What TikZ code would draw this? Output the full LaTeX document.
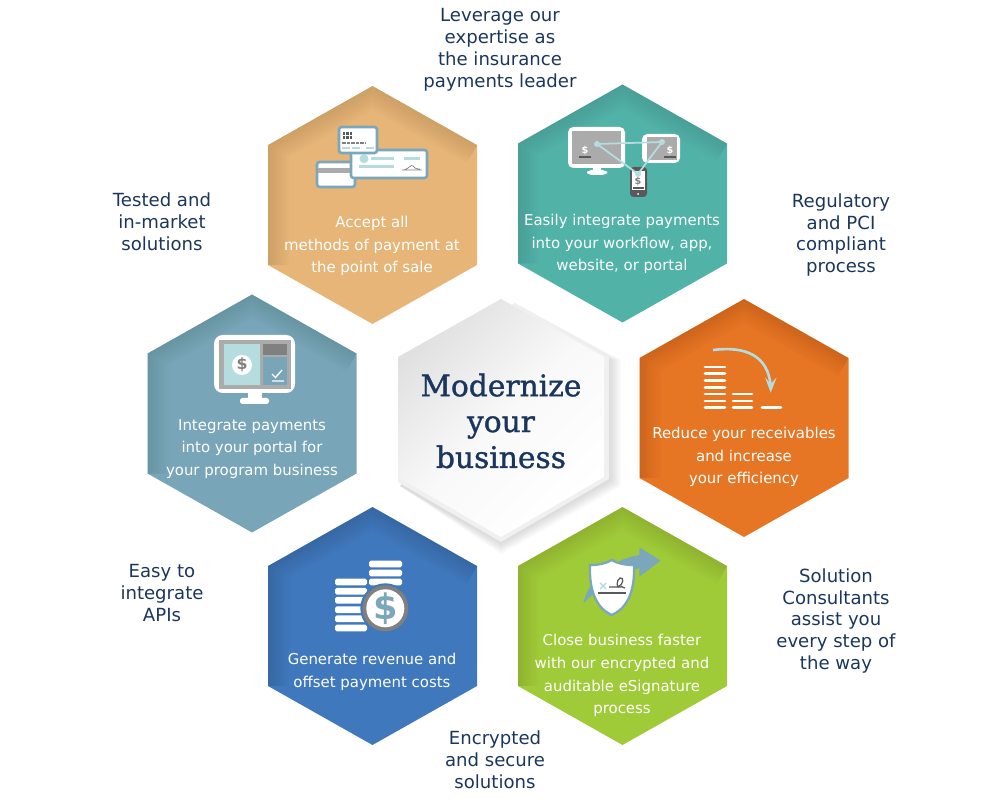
\documentclass[tikz,border=0pt]{standalone}
\usepackage{fontspec}
\setmainfont{DejaVu Sans}
\newfontfamily\titlefont[FakeBold=1.2]{DejaVu Serif}
\usepackage{xcolor}
\usepackage{tikz}
\definecolor{navy}{HTML}{1B365D}
\definecolor{tancell}{HTML}{E6B577}
\definecolor{tealcell}{HTML}{51B3A8}
\definecolor{slatecell}{HTML}{78A5B8}
\definecolor{orangecell}{HTML}{E67524}
\definecolor{bluecell}{HTML}{3F78BC}
\definecolor{greencell}{HTML}{A0CB38}
\definecolor{iconblue}{HTML}{7AA7BC}
\definecolor{iconpale}{HTML}{B5DDE0}
\definecolor{icongrey}{HTML}{ABABAB}
\definecolor{icondark}{HTML}{595959}
\newcommand{\hexpath}{(0,-119) -- (104.5,-60) -- (104.5,60) -- (0,119) -- (-104.5,60) -- (-104.5,-60) -- cycle}
% one coloured cell, darker along its upper left edges
\newcommand{\hexcell}[3]{%
  \begin{scope}[shift={(#1,#2)}]
    \fill[#3] \hexpath;
    \begin{scope}
      \clip \hexpath;
      \foreach \w in {3,6,...,24}
        \draw[black,opacity=.01,line width=\w pt] (-104.5,60) -- (-104.5,-60) -- (0,-119) -- (104.5,-60);
    \end{scope}
  \end{scope}}
\tikzset{
  celltext/.style={text=white,align=center,font=\fontsize{8.5}{13}\selectfont,inner sep=0pt},
  sidetext/.style={text=navy,align=center,font=\fontsize{10.3}{12.5}\selectfont,inner sep=0pt},
  dollar/.style={inner sep=0pt,font=\bfseries\fontsize{#1}{#1}\selectfont},
  bar/.style={line width=1.6pt,white,line cap=round},
  stackbar/.style={white,rounded corners=1pt}
}
\begin{document}
\begin{tikzpicture}[x=0.02cm,y=-0.02cm]
  \useasboundingbox (0,0) rectangle (1000,803);

  % cells
  \hexcell{372.5}{205}{tancell}
  \hexcell{622.5}{203.5}{tealcell}
  \hexcell{252}{413.5}{slatecell}
  \hexcell{744}{418}{orangecell}
  \hexcell{372.5}{626}{bluecell}
  \hexcell{622.5}{626}{greencell}

  % centre cell with lip and shadow
  \foreach \d in {12,10,...,2}
    \fill[black,opacity=.025] (520,306) -- (609+\d,360) -- (609+\d,480+\d/2) -- (501,542+\d) -- (400,486) -- cycle;
  \fill[gray!12] (515,303) -- (609,357) -- (609,479) -- (501,542) -- (398,482) -- (398,357) -- cycle;
  \shade[top color=gray!24,bottom color=white,middle color=white!95!gray,shading angle=45]
    (501,299) -- (604,357) -- (604,477) -- (501,537) -- (398,477) -- (398,357) -- cycle;

  % card icon
  \draw[iconblue,line width=1.5pt,fill=white,rounded corners=1.5pt] (317,162) rectangle (355,187);
  \fill[icongrey] (318,168) rectangle (354,173);
  \draw[iconblue,line width=1.5pt,fill=white,rounded corners=1.5pt] (351,150) rectangle (427,178);
  \fill[iconpale] (364,158.7) circle (4.5);
  \draw[iconpale,line width=1.6pt] (371,158.7) -- (394,158.7) (404,158.7) -- (420,158.7) (359,166.7) -- (394,166.7);
  \draw[gray,line width=.4pt] (402,170) -- (422,170) (404,170) .. controls (410,168) and (411,164) .. (413,166) .. controls (414,168) and (416,169) .. (420,169);
  \draw[iconblue,line width=1.5pt,fill=white,rounded corners=1.5pt] (339,127) rectangle (377,153);
  \fill[icondark] (342.5,132) rectangle (352,139);
  \draw[white,line width=.25pt] (345.6,132) -- (345.6,139) (348.8,132) -- (348.8,139) (342.5,135.5) -- (352,135.5);
  \draw[gray,line width=.8pt,dash pattern=on 2pt off .6pt] (342,143) -- (366,143);
  \draw[iconpale,line width=.8pt] (342,148) -- (350,148) (352,148) -- (360,148) (366,148) -- (374,148);

  % devices icon
  \fill[white,rounded corners=3pt] (568,127) rectangle (625,168);
  \fill[icongrey] (572,131) rectangle (621,164);
  \fill[white] (593,168) rectangle (601,171);
  \fill[white,rounded corners=2.5pt] (587,170) rectangle (607,175);
  \node[dollar=5.5,text=white] (deskSign) at (585,151) {\$};
  \draw[icondark,line width=.6pt] (579,157) -- (591,157);
  \fill[white,rounded corners=3pt] (642,134) rectangle (680,163);
  \fill[icongrey] (647,137) rectangle (677,160);
  \node[dollar=5.5,text=white] (tabletSign) at (670,151) {\$};
  \draw[icondark,line width=.6pt] (664,157) -- (676,157);
  \fill[icondark,rounded corners=2pt] (630,167) rectangle (647,197);
  \fill[white] (632,171) rectangle (645,190);
  \node[dollar=5.5,text=gray] (phoneSign) at (638,182) {\$};
  \draw[icondark,line width=.6pt] (633,188) -- (644,188);
  \fill[white] (638,194) circle (1);
  \draw[iconpale,line width=1pt] (597,144) -- (662,142) -- (638,174) -- cycle;
  \foreach \p in {(597,144),(662,142),(638,174)}
    \fill[iconpale] \p circle (3);

  % portal icon
  \fill[white,rounded corners=5pt] (214,335) rectangle (295,393);
  \fill[icongrey] (219,340) rectangle (291,389);
  \fill[iconpale] (224,344) rectangle (260,385);
  \fill[gray] (263,344) rectangle (287,355);
  \fill[slatecell] (263,357) rectangle (287,385);
  \fill[white] (242,365) circle (10);
  \node[dollar=9,text=gray] (portalSign) at (242,365) {\$};
  \draw[white,line width=.8pt] (272,374) -- (275.5,377.5) -- (282,370) (272,381) -- (284,381);
  \fill[white] (248,393) rectangle (262,398);
  \fill[white,rounded corners=1pt] (240,398) rectangle (269,404);

  % receivables icon
  \foreach \y in {367,373.7,380.3,387.3,394,401,407.7}
    \draw[bar] (705,\y) -- (725,\y);
  \foreach \y in {394,401,407.7}
    \draw[bar] (733,\y) -- (752,\y);
  \draw[bar] (762,407.7) -- (781,407.7);
  \draw[iconpale,line width=1.5pt] (713,350) .. controls (745,346) and (768,355) .. (770.7,386);
  \fill[iconpale] (765,377.3) -- (770.7,392.7) -- (776.7,377.3) -- (770.7,384) -- cycle;

  % coins icon
  \foreach \y in {582,591.3,600.3,609.7,618.7,628}
    \fill[stackbar] (335,\y-3.4) rectangle (367,\y+3.4);
  \foreach \y in {564,573,582}
    \fill[stackbar] (369,\y-3.4) rectangle (402,\y+3.4);
  \fill[bluecell] (385.3,608.3) circle (25);
  \fill[gray] (385.3,608.3) circle (23);
  \fill[white] (385.3,608.3) circle (19);
  \node[dollar=20,text=iconblue] (coinSign) at (385.3,608.3) {\$};

  % signature icon
  \fill[iconblue] (583.3,603.3) .. controls (586,590) and (600,562) .. (639.3,555) -- (639.3,547.3) -- (660.7,560.7) -- (639.3,576.7) -- (639.3,568.3) .. controls (615,572) and (590,597) .. cycle;
  \draw[iconblue,line width=1.3pt,fill=white] (611.7,560) .. controls (618,564) and (626,565) .. (634,565) .. controls (635,590) and (628,608) .. (611.7,615) .. controls (596,608) and (589,590) .. (590,565) .. controls (598,565) and (605,564) .. cycle;
  \draw[icondark,line width=.8pt] (598,593) -- (626,593);
  \draw[iconpale,line width=.8pt] (600,583) -- (606,589) (606,583) -- (600,589);
  \draw[icondark,line width=.7pt] (609,587) -- (618,587) .. controls (624,584) and (624,577) .. (620,578) .. controls (616,580) and (616,590) .. (621,587) .. controls (622,585) and (623,589) .. (625,588);

  % cell texts
  \node[celltext] (Accept) at (372,246) {Accept all\\methods of payment at\\the point of sale};
  \node[celltext] (Workflow) at (622,244) {Easily integrate payments\\into your workflow, app,\\website, or portal};
  \node[celltext] (Portal) at (252,449) {Integrate payments\\into your portal for\\your program business};
  \node[celltext] (Receivables) at (744,457) {Reduce your receivables\\and increase\\your efficiency};
  \node[celltext] (Revenue) at (372,671.5) {Generate revenue and\\offset payment costs};
  \node[celltext] (Signature) at (622,675.5) {Close business faster\\with our encrypted and\\auditable eSignature\\process};
  \node[text=navy,align=center,inner sep=0pt,font=\titlefont\fontsize{16.9}{20.4}\selectfont] (Modernize) at (501,421) {Modernize\\your\\business};

  % side texts
  \node[sidetext] (Leverage) at (500,50) {Leverage our\\expertise as\\the insurance\\payments leader};
  \node[sidetext] (Tested) at (162,222) {Tested and\\in-market\\solutions};
  \node[sidetext] (Regulatory) at (841,235) {Regulatory\\and PCI\\compliant\\process};
  \node[sidetext] (Apis) at (162,593) {Easy to\\integrate\\APIs};
  \node[sidetext] (Consultants) at (836,621) {Solution\\Consultants\\assist you\\every step of\\the way};
  \node[sidetext] (Encrypted) at (495,760) {Encrypted\\and secure\\solutions};
\end{tikzpicture}
\end{document}
